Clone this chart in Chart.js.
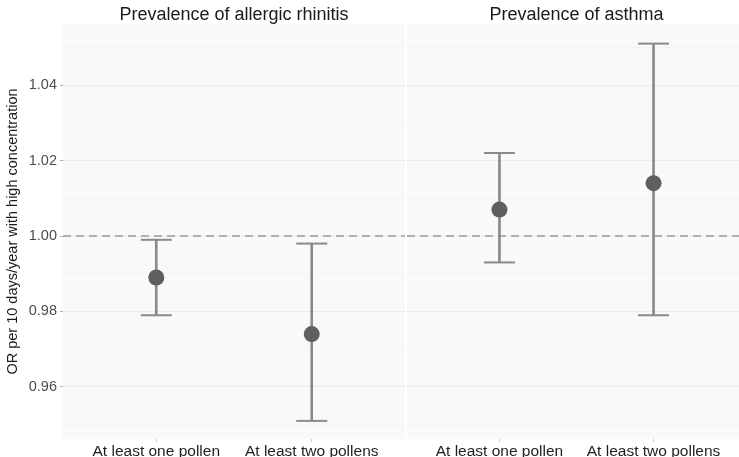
<!DOCTYPE html>
<html>
<head>
<meta charset="utf-8">
<script src="https://cdn.jsdelivr.net/npm/chart.js@4"></script>
<style>
  html, body { margin: 0; padding: 0; background: #fff; }
  #wrap { position: relative; width: 739px; height: 457px; overflow: hidden; }
  #left { position: absolute; left: 0; top: 0; }
  #right { position: absolute; left: 405px; top: 0; }
</style>
</head>
<body>
<div id="wrap">
  <canvas id="left" width="405" height="457"></canvas>
  <canvas id="right" width="341" height="457"></canvas>
</div>
<script>
const categories = ['At least one pollen', 'At least two pollens'];
const panelTitles = ['Prevalence of allergic rhinitis', 'Prevalence of asthma'];

const rhinitisOR = [0.989, 0.974];
const rhinitisLow = [0.979, 0.951];
const rhinitisHigh = [0.999, 0.998];

const asthmaOR = [1.007, 1.014];
const asthmaLow = [0.993, 0.979];
const asthmaHigh = [1.022, 1.051];

const yMajorTicks = [0.96, 0.98, 1.00, 1.02, 1.04];
const yMinorTicks = [0.95, 0.97, 0.99, 1.01, 1.03, 1.05];
const yMin = 0.9462, yMax = 1.0562;
const refValue = 1.0;

const FONT = "'Liberation Sans', Arial, sans-serif";

// panel background + dashed reference line
const panelPlugin = {
    id: 'panel',
    beforeDraw(chart) {
        const a = chart.chartArea, ctx = chart.ctx;
        ctx.save();
        ctx.fillStyle = '#f9f9f9';
        ctx.fillRect(a.left, a.top, a.right - a.left, a.bottom - a.top);
        ctx.restore();
    },
    beforeDatasetsDraw(chart) {
        const a = chart.chartArea, ctx = chart.ctx;
        const y = chart.scales.y.getPixelForValue(refValue);
        ctx.save();
        ctx.strokeStyle = '#9a9a9a';
        ctx.lineWidth = 1.5;
        ctx.setLineDash([8, 5]);
        ctx.beginPath();
        ctx.moveTo(a.left, y);
        ctx.lineTo(a.right, y);
        ctx.stroke();
        ctx.restore();
    }
};

function xy(values) {
    return values.map((v, i) => ({ x: i + 1, y: v }));
}

const isMajor = v => yMajorTicks.some(t => Math.abs(t - v) < 1e-9);

function makePanel(canvasId, title, est, low, high, showAxis) {
    const ctx = document.getElementById(canvasId);
    return new Chart(ctx, {
        type: 'bar',
        data: {
            datasets: [
                {
                    type: 'line',
                    data: xy(est),
                    showLine: false,
                    pointRadius: 8,
                    pointHoverRadius: 8,
                    pointBackgroundColor: '#5f5f5f',
                    pointBorderWidth: 0,
                    order: 0
                },
                {
                    type: 'line',
                    data: xy(low),
                    showLine: false,
                    pointStyle: 'line',
                    pointRadius: 15.5,
                    pointHoverRadius: 15.5,
                    pointBorderColor: '#8a8a8a',
                    pointBorderWidth: 2,
                    order: 1
                },
                {
                    type: 'line',
                    data: xy(high),
                    showLine: false,
                    pointStyle: 'line',
                    pointRadius: 15.5,
                    pointHoverRadius: 15.5,
                    pointBorderColor: '#8a8a8a',
                    pointBorderWidth: 2,
                    order: 1
                },
                {
                    type: 'bar',
                    data: low.map((v, i) => ({ x: i + 1, y: [v, high[i]] })),
                    backgroundColor: '#8a8a8a',
                    barThickness: 2,
                    grouped: false,
                    order: 2
                }
            ]
        },
        options: {
            responsive: false,
            animation: false,
            layout: { padding: 0, autoPadding: false },
            plugins: {
                legend: { display: false },
                tooltip: { enabled: false },
                title: {
                    display: true,
                    text: title,
                    fullSize: false,
                    color: '#1a1a1a',
                    font: { family: FONT, size: 18, weight: 'normal', lineHeight: 1 },
                    padding: { top: 6, bottom: 0 }
                }
            },
            scales: {
                x: {
                    type: 'linear',
                    offset: false,
                    min: 0.4,
                    max: 2.6,
                    afterBuildTicks(scale) {
                        scale.ticks = categories.map((c, i) => ({ value: i + 1 }));
                    },
                    afterFit(scale) {
                        scale.height = 18;
                        scale.paddingLeft = 0;
                        scale.paddingRight = 0;
                    },
                    grid: {
                        offset: false,
                        drawOnChartArea: false,
                        color: 'rgba(0,0,0,0)',
                        tickColor: '#c8c8c8',
                        tickLength: 3
                    },
                    border: { display: false },
                    ticks: {
                        padding: 0,
                        color: '#1f1f1f',
                        font: { family: FONT, size: 15.5 },
                        maxRotation: 0,
                        autoSkip: false,
                        callback: (v, i) => categories[i]
                    }
                },
                y: {
                    min: yMin,
                    max: yMax,
                    afterBuildTicks(scale) {
                        scale.ticks = yMajorTicks.concat(yMinorTicks)
                            .sort((a, b) => a - b)
                            .map(v => ({ value: v }));
                    },
                    afterFit(scale) { scale.width = showAxis ? 63 : 2; },
                    border: { display: false },
                    grid: {
                        color: c => isMajor(c.tick.value) ? '#ebebeb' : '#f3f3f3',
                        tickColor: c => (showAxis && isMajor(c.tick.value)) ? '#b0b0b0' : 'rgba(0,0,0,0)',
                        drawTicks: showAxis,
                        tickLength: 3,
                        lineWidth: 1
                    },
                    ticks: {
                        display: showAxis,
                        padding: 3,
                        color: '#4d4d4d',
                        font: { family: FONT, size: 14.5 },
                        callback: v => isMajor(v) ? v.toFixed(2) : ''
                    },
                    title: {
                        display: showAxis,
                        text: 'OR per 10 days/year with high concentration',
                        color: '#1a1a1a',
                        font: { family: FONT, size: 14.5 },
                        padding: { top: 4, bottom: 0 }
                    }
                }
            }
        },
        plugins: [panelPlugin]
    });
}

makePanel('left', panelTitles[0], rhinitisOR, rhinitisLow, rhinitisHigh, true);
makePanel('right', panelTitles[1], asthmaOR, asthmaLow, asthmaHigh, false);
</script>
</body>
</html>
